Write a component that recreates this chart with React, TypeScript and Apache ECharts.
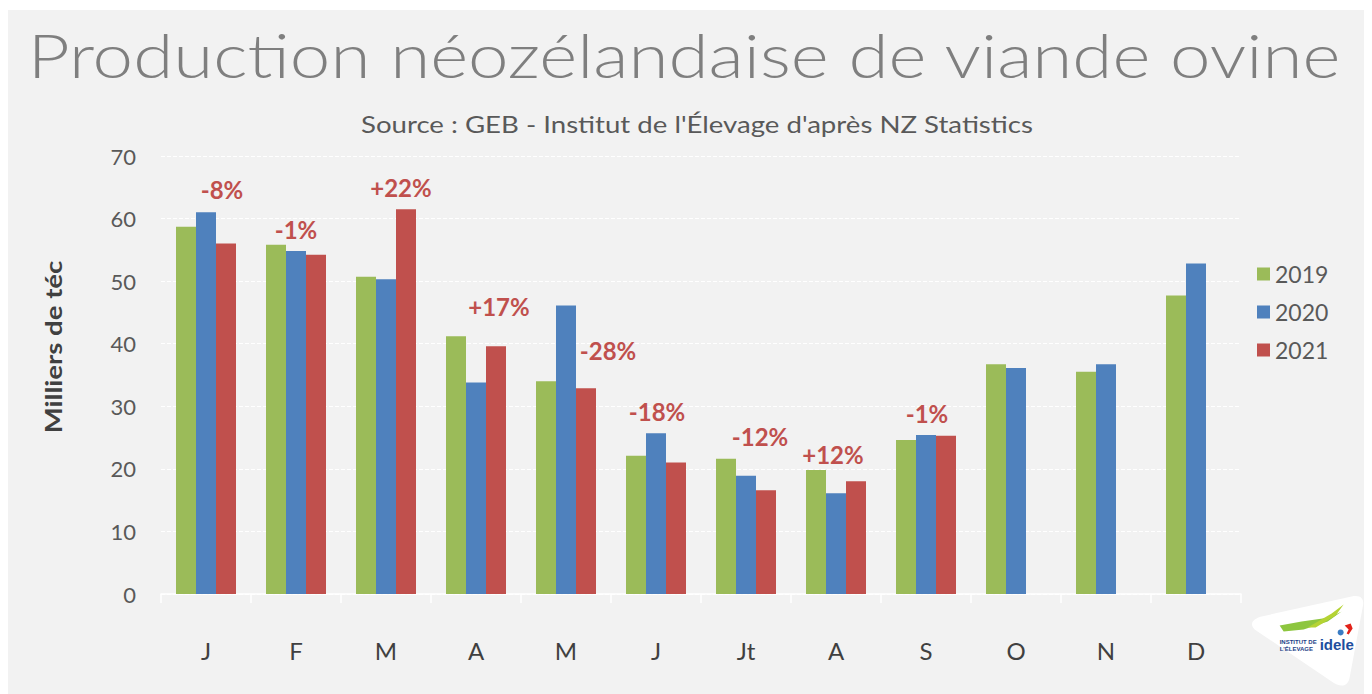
import React, { useEffect, useRef } from "react";
import * as echarts from "echarts";

const months = ["J", "F", "M", "A", "M", "J", "Jt", "A", "S", "O", "N", "D"];
const v2019 = [58.7, 55.8, 50.7, 41.2, 34.0, 22.1, 21.6, 19.8, 24.6, 36.7, 35.5, 47.7];
const v2020 = [61.0, 54.8, 50.3, 33.8, 46.1, 25.7, 18.9, 16.1, 25.4, 36.1, 36.7, 52.8];
const v2021 = [56.0, 54.2, 61.5, 39.6, 32.9, 21.0, 16.6, 18.0, 25.3, null, null, null];
const changes = ["-8%", "-1%", "+22%", "+17%", "-28%", "-18%", "-12%", "+12%", "-1%"];
const changeOffsets = [
  [-4, -37], [-20, -8], [-5, -5], [3, -23], [22, -21], [-19, -34], [-6, -37], [-23, -10], [-19, -5],
];
const yTicks = { min: 0, max: 70, interval: 10 };

const FONT = "Lato, 'Open Sans', sans-serif";

echarts.graphic.registerShape(
  "logoShape",
  echarts.graphic.extendPath(
    "M 3 34 C -3 28 2 23 10 21 L 100 1 C 110 -1 113 4 111 12 L 98 82 C 96 92 88 92 80 86 Z",
    {}
  )
);

export default function App() {
  const ref = useRef<HTMLDivElement>(null);
  useEffect(() => {
    if (!ref.current) return;
    const chart = echarts.init(ref.current, null, { renderer: "svg" });
    const d2021 = v2021.map((v, i) =>
      i < changes.length
        ? {
            value: v,
            label: {
              show: true,
              position: "top",
              formatter: changes[i],
              offset: changeOffsets[i],
              fontSize: 24,
              fontWeight: "bold",
              color: "#c0504d",
              fontFamily: FONT,
            },
          }
        : v
    );
    chart.setOption({
      animation: false,
      backgroundColor: "#f2f2f2",
      textStyle: { fontFamily: FONT },
      legend: {
        orient: "vertical",
        left: 1244,
        top: 247,
        itemWidth: 13,
        itemHeight: 13,
        itemGap: 14,
        icon: "rect",
        textStyle: { fontSize: 23, color: "#595959", lineHeight: 24, fontFamily: FONT },
        data: ["2019", "2020", "2021"],
      },
      grid: { left: 153, top: 146, width: 1080, height: 438, containLabel: false },
      xAxis: {
        type: "category",
        data: months,
        axisLine: { lineStyle: { color: "#ffffff", width: 1.5 } },
        axisTick: { show: true, length: 9, lineStyle: { color: "#ffffff", width: 1.5 } },
        axisLabel: { fontSize: 24, color: "#404040", margin: 44, fontFamily: FONT },
      },
      yAxis: {
        type: "value",
        min: yTicks.min,
        max: yTicks.max,
        interval: yTicks.interval,
        axisLabel: { fontSize: 22, color: "#595959", margin: 25, fontFamily: FONT },
        axisLine: { show: false },
        axisTick: { show: false },
        splitLine: { lineStyle: { color: "#ffffff", type: [4, 2], width: 1 } },
      },
      series: [
        { name: "2019", type: "bar", data: v2019, itemStyle: { color: "#9bbb59" }, barGap: "0%", barCategoryGap: "33.33%" },
        { name: "2020", type: "bar", data: v2020, itemStyle: { color: "#4f81bd" }, barGap: "0%", barCategoryGap: "33.33%" },
        { name: "2021", type: "bar", data: d2021, itemStyle: { color: "#c0504d" }, barGap: "0%", barCategoryGap: "33.33%" },
      ],
      graphic: [
        {
          type: "text",
          x: 676,
          y: 13,
          scaleX: 1.173,
          style: {
            text: "Production néozélandaise de viande ovine",
            fontSize: 62,
            fontWeight: 300,
            fill: "#7f7f7f",
            fontFamily: FONT,
            textAlign: "center",
            textVerticalAlign: "top",
          },
        },
        {
          type: "text",
          x: 689,
          y: 102,
          scaleX: 1.2,
          style: {
            text: "Source : GEB - Institut de l'Élevage d'après NZ Statistics",
            fontSize: 23,
            fill: "#595959",
            fontFamily: FONT,
            textAlign: "center",
            textVerticalAlign: "top",
          },
        },
        {
          type: "text",
          x: 45,
          y: 337,
          rotation: Math.PI / 2,
          scaleX: 1.2,
          style: {
            text: "Milliers de téc",
            fontSize: 23,
            fontWeight: "bold",
            fill: "#404040",
            fontFamily: FONT,
            textAlign: "center",
            textVerticalAlign: "middle",
          },
        },
        {
          type: "group",
          left: 1244,
          top: 586,
          children: [
            { type: "logoShape", x: 0, y: 0, style: { fill: "#ffffff" } },
            {
              type: "polygon",
              shape: { points: [[28, 30], [50, 26], [78, 22], [90, 16], [76, 26], [52, 34], [32, 36]] },
              style: { fill: "#8dc63f" },
            },
            {
              type: "polygon",
              shape: { points: [[56, 32], [80, 18], [92, 9], [84, 20], [64, 32]] },
              style: { fill: "#b5d334" },
            },
            {
              type: "polygon",
              shape: { points: [[93, 30], [99, 28], [101, 33], [97, 39], [95, 38], [97, 34]] },
              style: { fill: "#e2231a" },
            },
            { type: "circle", shape: { cx: 89, cy: 37, r: 3 }, style: { fill: "#3a7cc4" } },
            {
              type: "text",
              x: 28,
              y: 44,
              style: { text: "INSTITUT DE", fontSize: 6, fontWeight: "bold", fill: "#1d3f87", fontFamily: "Liberation Sans Narrow, Liberation Sans, sans-serif" },
            },
            {
              type: "text",
              x: 28,
              y: 51,
              style: { text: "L'ÉLEVAGE", fontSize: 6, fontWeight: "bold", fill: "#1d3f87", fontFamily: "Liberation Sans Narrow, Liberation Sans, sans-serif" },
            },
            {
              type: "text",
              x: 68,
              y: 42,
              style: { text: "idele", fontSize: 15, fontWeight: "bold", fill: "#1d4e9e", fontFamily: "Liberation Sans, sans-serif" },
            },
          ],
        },
      ],
    });
    return () => chart.dispose();
  }, []);
  return <div ref={ref} style={{ width: 1364, height: 684, marginTop: 2 }} />;
}
